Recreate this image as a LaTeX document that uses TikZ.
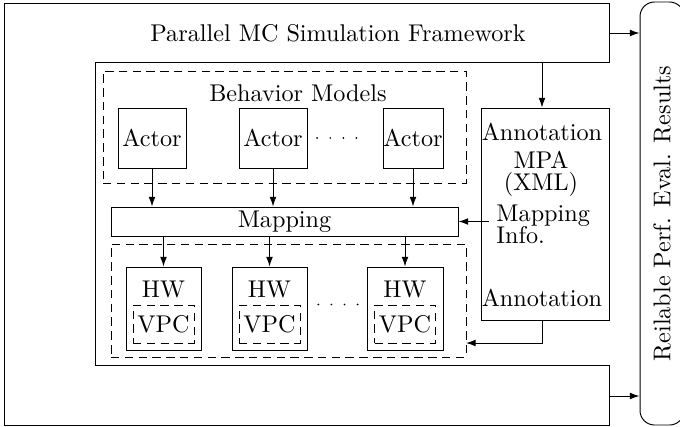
\documentclass[tikz,border=0pt]{standalone}
\usepackage{amsmath}
\usepackage{tikz}
\usetikzlibrary{positioning, arrows.meta}

\newlength\pxu
\setlength\pxu{0.4133pt}

\tikzset{
    box/.style={draw, inner sep=1pt},
    group/.style={draw, dash pattern=on 3.5pt off 2.2pt},
    dotrow/.style={line width=0.8pt, line cap=round, dash pattern=on 0pt off 5.4pt}
}

\begin{document}
\begin{tikzpicture}[x=1\pxu, y=-1\pxu, >={Latex[length=4pt, width=2.8pt]}]
        \useasboundingbox (0,0) rectangle (680,426);
        % framework outline
        \draw (4,3) -- (609,3) -- (609,62) -- (95,62) -- (95,365)
              -- (609,365) -- (609,425) -- (4,425) -- cycle;
        \node (fw)   at (338,33)    {Parallel MC Simulation Framework};
        \coordinate (fwtop) at (609,33);
        \coordinate (fwbot) at (609,396);
        \coordinate (fwann) at (542,62);
        % behavior models
        \node (bm)   [group, minimum width=363\pxu, minimum height=112\pxu] at (284.5,127) {};
        \node (bml)  at (298,93)    {Behavior Models};
        \node (act1) [box, inner sep=0pt, minimum width=68\pxu, minimum height=60\pxu] at (152,138) {Actor};
        \node (act2) [box, inner sep=0pt, minimum width=68\pxu, minimum height=60\pxu] at (273,138) {Actor};
        \node (act3) [box, inner sep=0pt, minimum width=60\pxu, minimum height=60\pxu] at (413,138) {Actor};
        % mapping
        \node (map)  [box, minimum width=347\pxu, minimum height=29\pxu] at (284.5,221.5) {Mapping};
        % hardware
        \node (hwg)  [group, minimum width=355\pxu, minimum height=113\pxu] at (288.5,300.5) {};
        \node (hw1)  [box, minimum width=75\pxu, minimum height=83\pxu] at (163.5,308.5) {};
        \node (hw2)  [box, minimum width=75\pxu, minimum height=83\pxu] at (269.5,308.5) {};
        \node (hw3)  [box, minimum width=76\pxu, minimum height=83\pxu] at (405,308.5) {};
        \node (hwl1) at (163.5,289) {HW};
        \node (hwl2) at (269.5,289) {HW};
        \node (hwl3) at (405,289)   {HW};
        \node (vpc1) [group, inner sep=0pt, minimum width=61\pxu, minimum height=38\pxu] at (163.5,324) {VPC};
        \node (vpc2) [group, inner sep=0pt, minimum width=61\pxu, minimum height=38\pxu] at (269.5,324) {VPC};
        \node (vpc3) [group, inner sep=0pt, minimum width=61\pxu, minimum height=38\pxu] at (405,324)   {VPC};
        \coordinate (back) at (466,343);
        % annotation
        \node (ann)  [box, minimum width=128\pxu, minimum height=212\pxu] at (545,214) {};
        \node (annt) at (542,132)   {Annotation};
        \node (mpa)  [align=center, inner sep=0pt] at (541,174) {MPA\\[-3pt](XML)};
        \node (info) [align=left, anchor=west, inner sep=0pt] at (496,224) {Mapping\\[-3pt]Info.};
        \node (annb) at (542,298)   {Annotation};
        % results
        \node (res)  [draw, rounded corners=6pt, minimum width=44\pxu, minimum height=423\pxu] at (662,213.5)
                     {\rotatebox{90}{Reilable Perf. Eval. Results}};
        \draw[->] (act1)  -- (act1 |- map.north);
        \draw[->] (act2)  -- (act2 |- map.north);
        \draw[->] (act3)  -- (act3 |- map.north);
        \draw[->] (hw1 |- map.south) -- (hw1.north);
        \draw[->] (hw2 |- map.south) -- (hw2.north);
        \draw[->] (hw3 |- map.south) -- (hw3.north);
        \draw[dotrow, shorten <=4pt, shorten >=10pt] (act2.east) -- (act3.west);
        \draw[dotrow, shorten <=4.5pt, shorten >=2pt] (hw2.east |- vpc2.north) -- (hw3.west |- vpc3.north);
        \draw[->] (fwann) -- (fwann |- ann.north);
        \draw[->] ([xshift=-3pt]info.west |- map.east) -- (map.east);
        \draw[->] (annb |- ann.south) |- (back);
        \draw[->] (fwtop) -- (fwtop -| res.west);
        \draw[->] (fwbot) -- (fwbot -| res.west);
\end{tikzpicture}
\end{document}
